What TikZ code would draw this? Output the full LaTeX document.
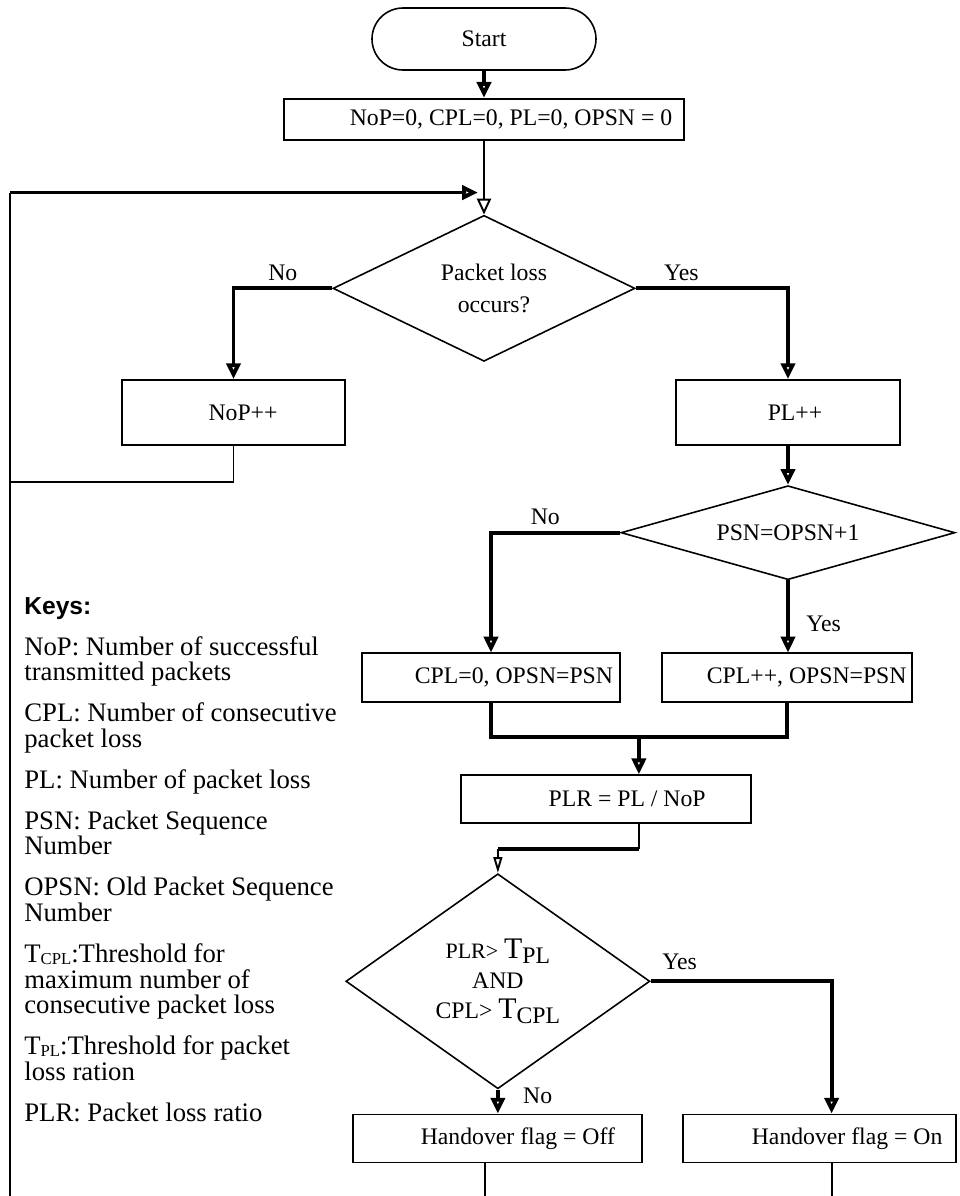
\documentclass[tikz,border=0pt]{standalone}
\usepackage{fontspec}
\setmainfont{Liberation Serif}
\newfontfamily\keyhead{Liberation Sans}
\usetikzlibrary{shapes.geometric, arrows.meta, positioning, calc}

% threshold with a large T and a lowered index
\newcommand{\thr}[1]{{\fontsize{17}{17}\selectfont T}\raisebox{-3pt}{#1}}
% small index used in the keys
\newcommand{\keysub}[1]{\raisebox{-1.2pt}{\fontsize{9.5}{9.5}\selectfont #1}}

\begin{document}
\begin{tikzpicture}[
    font=\fontsize{13.5}{16}\selectfont,
    node distance=1cm,
    block/.style={rectangle, draw, line width=1pt, minimum height=0.98cm, inner sep=2pt},
    decision/.style={diamond, draw, line width=0.9pt, inner sep=0pt, align=center},
    terminal/.style={rectangle, draw, line width=0.9pt, rounded corners=0.62cm, minimum width=4.48cm, minimum height=1.24cm},
    line/.style={draw, line width=2.2pt, -{Triangle[open, length=9pt, width=8pt]}},
    wire/.style={draw, line width=1.1pt},
    keys/.style={font=\fontsize{15.2}{14.7}\selectfont, align=left, inner sep=0pt, anchor=north west}
]
\useasboundingbox (-9.68,0.78) rectangle (9.52,-23.14);

\node [terminal] (start) {Start};
\node [block, minimum width=8cm, minimum height=0.82cm, below=0.54cm of start] (init) {\hspace*{1.08cm}NoP=0, CPL=0, PL=0, OPSN = 0};
\node [decision, minimum width=6.04cm, minimum height=2.92cm, aspect=2, below=1.48cm of init, font=\fontsize{13.5}{18}\selectfont] (loss) {\hspace*{0.4cm}Packet loss\\\hspace*{0.4cm}occurs?};
\node [block, minimum width=4.46cm, minimum height=1.3cm, below=0.34cm of loss, xshift=-5.01cm] (nop) {\hspace*{0.38cm}NoP++};
\node [block, minimum width=4.48cm, minimum height=1.3cm, below=0.34cm of loss, xshift=6.08cm] (pl) {\hspace*{0.28cm}PL++};
\node [decision, minimum width=6.68cm, minimum height=1.88cm, aspect=3.5, below=0.78cm of pl] (seq) {PSN=OPSN+1};
\node [block, minimum width=5.16cm, below=1.44cm of seq, xshift=-5.94cm] (reset) {\hspace*{0.92cm}CPL=0, OPSN=PSN};
\node [block, minimum width=5cm, right=0.8cm of reset] (incr) {\hspace*{0.8cm}CPL++, OPSN=PSN};
\coordinate (join) at ($(reset.south)!0.5!(incr.south)+(0,-0.68)$);
\node [block, minimum width=5.8cm, minimum height=0.96cm, below=0.74cm of join, xshift=-0.66cm] (plr) {\hspace*{0.85cm}PLR = PL / NoP};
\coordinate (bend) at ($(plr.south -| join)+(0,-0.5)$);
\node [decision, minimum width=6.08cm, minimum height=4.3cm, aspect=1.4, below=0.98cm of plr, xshift=-2.16cm, font=\fontsize{13.5}{17}\selectfont] (cond)
    {{\fontsize{12.5}{14}\selectfont PLR>} \thr{PL}\\AND\\CPL> \thr{CPL}};
\node [block, minimum width=5.78cm, minimum height=0.96cm, below=0.48cm of cond] (off) {\hspace*{0.8cm}Handover flag = Off};
\node [block, minimum width=5.46cm, minimum height=0.96cm, right=0.78cm of off] (on) {\hspace*{1.1cm}Handover flag = On};

% loop back rail on the left
\coordinate (bottom) at (0,-23.14);
\coordinate (entry) at ($(init.south)+(0,-1.04)$);
\coordinate (railtop) at ($(entry)+(-9.48,0)$);
\coordinate (back) at ($(nop.south)+(0,-0.72)$);
\coordinate (offout) at ([xshift=-0.26cm]off.south);
\coordinate (onout) at ([xshift=0.24cm]on.south);

\path [line] (start) -- (init);
\path [wire, -{Triangle[open, length=9pt, width=8pt]}] (init) -- (loss);
\path [line] (railtop) -- ([xshift=-0.12cm]entry);
\path [wire] (railtop |- bottom) -- (railtop);
\path [wire] (nop.south) -- (back) -- (back -| railtop);

\path [line] (loss.west) -| node[pos=0.25, above] {No} (nop.north);
\path [line] (loss.east) -| node[pos=0.15, above] {Yes} (pl.north);
\path [line] (pl) -- (seq);
\path [line] (seq.west) -| node[pos=0.29, above] {No} (reset.north);
\path [line] (seq.south) -- node[pos=0.6, right=6pt] {Yes} (seq.south |- incr.north);
\path [draw, line width=2.2pt] (reset.south) |- (join);
\path [draw, line width=2.2pt] (incr.south) |- (join);
\path [line] (join) -- (join |- plr.north);

\path [wire] (plr.south -| join) -- (bend);
\path [draw, line width=2.2pt] (bend) -- (bend -| cond.north);
\path [wire, -{Triangle[open, length=9pt, width=5pt]}] (bend -| cond.north) -- (cond.north);
\path [line] (cond.east) -| node[pos=0.08, above=2pt] {Yes} (onout |- on.north);
\path [line] (cond.south) -- node[pos=0.25, right=10pt] {No} (off.north);
\path [wire] (offout) -- (offout |- bottom);
\path [wire] (onout) -- (onout |- bottom);

% keys to the abbreviations
\node [keys] (legend) at (-9.2,-11.16) {%
    {\keyhead\bfseries\fontsize{14}{14}\selectfont Keys:}\\[8.5pt]
    NoP: Number of successful\\transmitted packets\\[8.5pt]
    CPL: Number of consecutive\\packet loss\\[8.5pt]
    PL: Number of packet loss\\[8.5pt]
    PSN: Packet Sequence\\Number\\[8.5pt]
    OPSN: Old Packet Sequence\\Number\\[8.5pt]
    T\keysub{CPL}:Threshold for\\maximum number of\\consecutive packet loss\\[8.5pt]
    T\keysub{PL}:Threshold for packet\\loss ration\\[8.5pt]
    PLR: Packet loss ratio};
\end{tikzpicture}
\end{document}
